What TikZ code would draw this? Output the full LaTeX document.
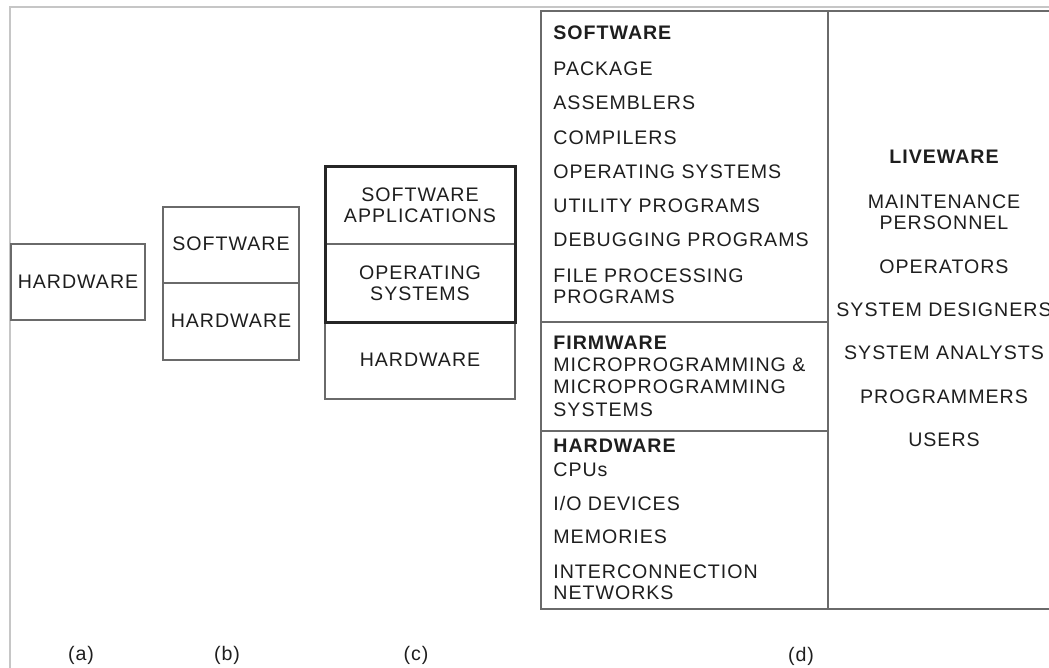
\documentclass[tikz,border=0pt]{standalone}
\usepackage{fontspec}
\setmainfont{Liberation Sans}[LetterSpace=5]

\definecolor{ink}{HTML}{1E1E1E}
\definecolor{rule}{HTML}{6A6A6A}

\tikzset{
    lbl/.style={font=\fontsize{9.8}{10.6}\selectfont, text=ink, inner sep=0pt, align=center},
    item/.style={lbl, anchor=west, align=left},
    head/.style={item, font=\fontsize{9.8}{11.2}\selectfont\bfseries},
    cell/.style={draw=rule, line width=0.7pt},
    thickcell/.style={draw=black!85, line width=1.5pt},
}

\begin{document}
\begin{tikzpicture}[x=0.5pt, y=-0.5pt]
    \useasboundingbox (0,0) rectangle (1049,668);

    % outer frame
    \draw[gray!45, line width=1pt] (10,668) -- (10,7) -- (1049,7);

    % (a) hardware only
    \draw[cell] (11,244) rectangle (145,320);
    \node[lbl] (ahw) at (78,282) {HARDWARE};

    % (b) software on hardware
    \draw[cell] (163,207) rectangle (299,360);
    \draw[cell] (163,283) -- (299,283);
    \node[lbl] (bsw) at (231,244) {SOFTWARE};
    \node[lbl] (bhw) at (231,321) {HARDWARE};

    % (c) applications, OS, hardware
    \draw[cell] (325,322) rectangle (515,399);
    \draw[cell] (325,244) -- (515,244);
    \draw[thickcell] (325,167) rectangle (515,322);
    \node[lbl] (capp) at (420,205) {SOFTWARE\\APPLICATIONS};
    \node[lbl] (cos)  at (420,283) {OPERATING\\SYSTEMS};
    \node[lbl] (chw)  at (420,360) {HARDWARE};

    % (d) the four layers
    \draw[cell] (541,11) rectangle (828,609);
    \draw[cell] (828,11) -- (1049,11);
    \draw[cell] (828,609) -- (1049,609);
    \draw[cell] (541,322) -- (828,322);
    \draw[cell] (541,431) -- (828,431);

    % software
    \node[head] (dsw) at (553,33) {SOFTWARE};
    \foreach \t [count=\i] in {PACKAGE, ASSEMBLERS, COMPILERS, OPERATING SYSTEMS,
                               UTILITY PROGRAMS, DEBUGGING PROGRAMS} {
        \node[item] (sw\i) at (553,{69+34.2*(\i-1)}) {\t};
    }
    \node[item] (sw7) at (553,286) {FILE PROCESSING\\PROGRAMS};

    % firmware
    \node[item, font=\fontsize{9.8}{11.2}\selectfont] (dfw) at (553,376)
        {\textbf{FIRMWARE}\\MICROPROGRAMMING \&\\MICROPROGRAMMING\\SYSTEMS};

    % hardware
    \node[item, font=\fontsize{9.8}{12}\selectfont] (dhw) at (553,458) {\textbf{HARDWARE}\\CPUs};
    \node[item] (hw1) at (553,503) {I/O DEVICES};
    \node[item] (hw2) at (553,537) {MEMORIES};
    \node[item] (hw3) at (553,582) {INTERCONNECTION\\NETWORKS};

    % liveware
    \node[lbl, font=\fontsize{9.8}{11}\selectfont\bfseries] (dlw) at (944,157) {LIVEWARE};
    \node[lbl] (lw1) at (944,212) {MAINTENANCE\\PERSONNEL};
    \node[lbl] (lw2) at (944,267) {OPERATORS};
    \node[lbl] (lw3) at (944,310) {SYSTEM DESIGNERS};
    \node[lbl] (lw4) at (944,353) {SYSTEM ANALYSTS};
    \node[lbl] (lw5) at (944,397) {PROGRAMMERS};
    \node[lbl] (lw6) at (944,440) {USERS};

    % captions
    \node[lbl] (capa) at (81,655) {(a)};
    \node[lbl] (capb) at (227,655) {(b)};
    \node[lbl] (capc) at (416,655) {(c)};
    \node[lbl] (capd) at (801,656) {(d)};
\end{tikzpicture}
\end{document}
